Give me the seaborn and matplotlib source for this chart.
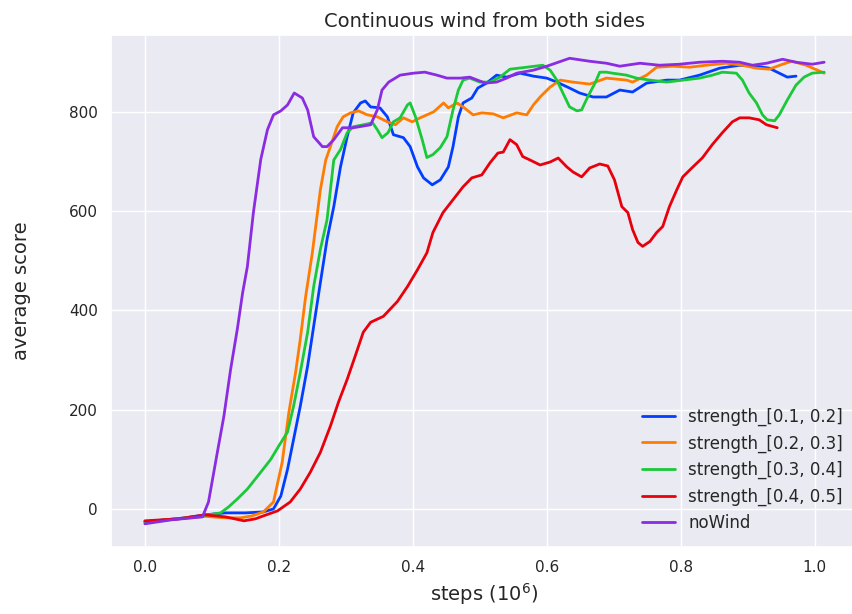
import pandas as pd
import seaborn as sns
import matplotlib
matplotlib.use("Agg")
import matplotlib.pyplot as plt

# values (steps in 1e6, average score)
blue_x = [0, 0.03, 0.06, 0.09, 0.12, 0.15, 0.177, 0.192, 0.203, 0.213, 0.222, 0.232, 0.243, 0.252, 0.262, 0.272,
          0.282, 0.292, 0.302, 0.311, 0.322, 0.329, 0.337, 0.351, 0.362, 0.371, 0.386, 0.396, 0.407, 0.416, 0.429,
          0.441, 0.453, 0.46, 0.468, 0.475, 0.488, 0.497, 0.51, 0.525, 0.54, 0.56, 0.58, 0.6, 0.615, 0.634, 0.649,
          0.669, 0.689, 0.709, 0.728, 0.749, 0.779, 0.798, 0.828, 0.858, 0.888, 0.913, 0.932, 0.947, 0.959, 0.972]
blue_y = [-26, -22, -18, -12, -8, -8, -6, 0, 26, 80, 140, 207, 288, 368, 456, 543,
          609, 689, 750, 798, 818, 822, 810, 808, 790, 754, 748, 730, 689, 667, 653,
          663, 689, 730, 790, 818, 828, 848, 858, 874, 870, 878, 872, 868, 860, 848, 838,
          830, 830, 844, 840, 858, 864, 864, 874, 888, 894, 892, 888, 878, 870, 872]

orange_x = [0, 0.05, 0.09, 0.12, 0.143, 0.16, 0.177, 0.192, 0.205, 0.215, 0.225, 0.232, 0.24, 0.25, 0.262, 0.27,
            0.277, 0.287, 0.296, 0.307, 0.319, 0.332, 0.347, 0.362, 0.374, 0.386, 0.399, 0.411, 0.431, 0.446,
            0.453, 0.466, 0.475, 0.49, 0.503, 0.52, 0.535, 0.555, 0.57, 0.58, 0.59, 0.605, 0.62, 0.639, 0.664,
            0.689, 0.719, 0.728, 0.749, 0.764, 0.788, 0.813, 0.838, 0.868, 0.892, 0.913, 0.932, 0.952, 0.966,
            0.987, 1.004, 1.014]
orange_y = [-26, -20, -15, -18, -18, -14, -6, 14, 94, 195, 275, 342, 428, 516, 643, 703,
            730, 770, 790, 798, 802, 794, 790, 780, 774, 788, 780, 788, 800, 818,
            808, 818, 810, 794, 798, 796, 788, 798, 794, 814, 830, 850, 864, 860, 856,
            868, 864, 860, 874, 890, 892, 890, 894, 898, 894, 888, 886, 896, 902,
            894, 884, 878]

green_x = [0, 0.05, 0.09, 0.113, 0.125, 0.138, 0.153, 0.173, 0.188, 0.2, 0.213, 0.222, 0.232, 0.243, 0.252, 0.262,
           0.272, 0.282, 0.292, 0.302, 0.311, 0.326, 0.34, 0.347, 0.354, 0.363, 0.371, 0.381, 0.392, 0.396, 0.404,
           0.414, 0.421, 0.43, 0.441, 0.451, 0.46, 0.468, 0.475, 0.485, 0.5, 0.515, 0.53, 0.545, 0.57, 0.594,
           0.605, 0.615, 0.624, 0.634, 0.645, 0.652, 0.661, 0.672, 0.679, 0.689, 0.698, 0.719, 0.734, 0.754,
           0.779, 0.803, 0.828, 0.847, 0.862, 0.883, 0.892, 0.902, 0.913, 0.922, 0.929, 0.94, 0.947, 0.959,
           0.972, 0.984, 0.996, 1.014]
green_y = [-26, -20, -13, -8, 4, 20, 40, 74, 100, 127, 155, 207, 275, 356, 448, 523,
           583, 703, 724, 758, 770, 774, 778, 764, 748, 758, 780, 788, 814, 818, 790,
           744, 708, 714, 728, 750, 804, 844, 864, 868, 860, 860, 870, 886, 890, 894,
           884, 864, 838, 810, 802, 804, 830, 858, 880, 880, 878, 874, 868, 864,
           860, 864, 868, 874, 880, 878, 864, 838, 818, 794, 784, 782, 794, 824,
           854, 870, 878, 880]

red_x = [0, 0.05, 0.09, 0.12, 0.148, 0.165, 0.177, 0.198, 0.217, 0.232, 0.247, 0.262, 0.277, 0.289, 0.302, 0.314,
         0.326, 0.337, 0.356, 0.377, 0.392, 0.407, 0.421, 0.43, 0.445, 0.46, 0.475, 0.488, 0.503, 0.515, 0.527,
         0.535, 0.545, 0.555, 0.564, 0.575, 0.59, 0.6, 0.605, 0.617, 0.63, 0.639, 0.652, 0.664, 0.679, 0.691,
         0.701, 0.712, 0.721, 0.728, 0.736, 0.743, 0.754, 0.764, 0.773, 0.783, 0.794, 0.803, 0.818, 0.832,
         0.847, 0.862, 0.877, 0.888, 0.902, 0.917, 0.928, 0.944]
red_y = [-24, -20, -12, -16, -24, -20, -14, -4, 14, 40, 74, 114, 167, 215, 261, 308,
         356, 376, 388, 418, 448, 482, 516, 557, 597, 623, 649, 667, 673, 697, 717,
         719, 744, 734, 710, 703, 693, 697, 699, 707, 689, 679, 669, 687, 695, 691,
         663, 609, 597, 563, 537, 529, 539, 557, 569, 609, 643, 669, 689, 707,
         734, 758, 780, 788, 788, 784, 774, 768]

purple_x = [0, 0.04, 0.086, 0.095, 0.109, 0.118, 0.128, 0.138, 0.146, 0.153, 0.162, 0.173, 0.183, 0.192, 0.203,
            0.213, 0.223, 0.235, 0.243, 0.252, 0.265, 0.272, 0.282, 0.295, 0.311, 0.337, 0.347, 0.354, 0.364,
            0.381, 0.401, 0.418, 0.436, 0.451, 0.471, 0.485, 0.508, 0.525, 0.54, 0.555, 0.58, 0.6, 0.617, 0.634,
            0.664, 0.689, 0.709, 0.739, 0.768, 0.798, 0.828, 0.862, 0.888, 0.907, 0.928, 0.952, 0.972, 0.996, 1.014]
purple_y = [-30, -22, -16, 14, 120, 187, 281, 362, 436, 488, 597, 704, 764, 794, 802,
            814, 838, 828, 804, 750, 730, 730, 744, 768, 768, 774, 804, 844, 860,
            874, 878, 880, 874, 868, 868, 870, 858, 860, 868, 878, 884, 892, 900, 908,
            902, 898, 892, 898, 894, 896, 900, 902, 900, 894, 898, 906, 900, 896, 900]

labels = ["strength_[0.1, 0.2]", "strength_[0.2, 0.3]", "strength_[0.3, 0.4]",
          "strength_[0.4, 0.5]", "noWind"]

series = [(blue_x, blue_y), (orange_x, orange_y), (green_x, green_y), (red_x, red_y), (purple_x, purple_y)]
frames = []
for name, (xs, ys) in zip(labels, series):
    frames.append(pd.DataFrame({"steps": xs, "score": ys, "run": name}))
df = pd.concat(frames, ignore_index=True)

sns.set_theme(style="darkgrid", palette="bright")

fig = plt.figure(figsize=(8.53, 6.14), dpi=100)
ax = fig.add_axes([0.130, 0.109, 0.876, 0.834])
sns.lineplot(data=df, x="steps", y="score", hue="run", hue_order=labels,
             estimator=None, sort=False, linewidth=2, ax=ax)

ax.set_title("Continuous wind from both sides", fontsize=14)
ax.set_xlabel("steps ($10^6$)", fontsize=14)
ax.set_ylabel("average score", fontsize=14, labelpad=27)
ax.tick_params(labelsize=11)
ax.legend(loc="lower right", frameon=False, fontsize=12)

fig.savefig("out.png", dpi=100)
